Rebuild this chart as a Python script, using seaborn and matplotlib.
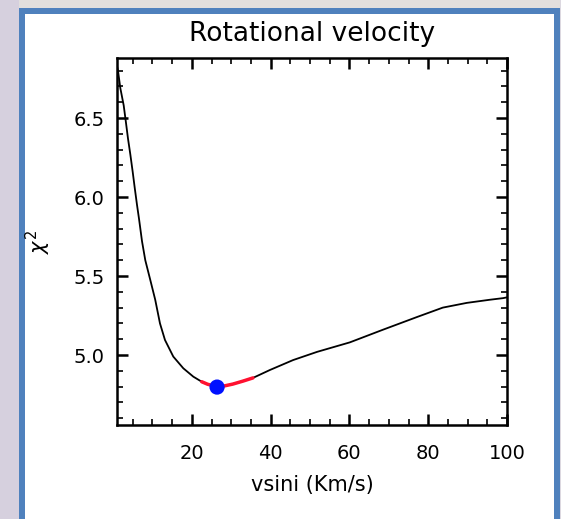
import numpy as np
import pandas as pd
import matplotlib
matplotlib.use("Agg")
import matplotlib.pyplot as plt
from matplotlib.patches import Rectangle
from matplotlib.ticker import MultipleLocator, FixedLocator
import seaborn as sns

# ---- data ----
vsini = [1.0, 1.25, 1.84, 2.70, 3.28, 3.79, 4.38, 4.98, 5.49, 6.08, 6.6, 7.35,
         8.18, 9.45, 10.7, 11.91, 13.18, 15.29, 17.83, 20.37, 22.5, 24.0, 26.3,
         28.0, 30.4, 33.0, 35.5, 39.8, 45.7, 51.8, 60.1, 68.5, 77.1, 83.7, 89.8,
         95.7, 99.0, 100.0]
chi2 = [6.83, 6.80, 6.69, 6.58, 6.47, 6.37, 6.27, 6.16, 6.06, 5.95, 5.86, 5.72,
        5.60, 5.475, 5.35, 5.20, 5.095, 4.99, 4.916, 4.863, 4.831, 4.815, 4.80,
        4.803, 4.816, 4.835, 4.855, 4.905, 4.968, 5.02, 5.08, 5.16, 5.24, 5.30,
        5.33, 5.35, 5.36, 5.365]
err_lo, err_hi = 22.5, 35.5
best_v = [26.4]
best_chi = [4.797]
xticks = [20, 40, 60, 80, 100]
yticks = [5.0, 5.5, 6.0, 6.5]

df = pd.DataFrame({"vsini": vsini, "chi2": chi2})
df_err = df[(df.vsini >= err_lo) & (df.vsini <= err_hi)]
df_best = pd.DataFrame({"vsini": best_v, "chi2": best_chi})

sns.set_style("ticks")
plt.rcParams["font.family"] = ["DejaVu Sans"]
plt.rcParams["text.color"] = "black"
plt.rcParams["axes.labelcolor"] = "black"
plt.rcParams["xtick.color"] = "black"
plt.rcParams["ytick.color"] = "black"

W, H = 561, 519
fig = plt.figure(figsize=(W / 100, H / 100), dpi=100)
fig.patch.set_facecolor("white")

# window decoration: grey surround and blue frame
def px_rect(x0, y0, x1, y1, color, z=-2):
    fig.patches.append(Rectangle((x0 / W, 1 - y1 / H), (x1 - x0) / W, (y1 - y0) / H,
                                 transform=fig.transFigure, color=color, zorder=z,
                                 lw=0))
px_rect(0, 0, W, 9, "#e2dfdd")
px_rect(0, 0, 19, H, "#d6d0de")
px_rect(560, 0, W, H, "#dcd8e0")
px_rect(19, 8, 560, 14, "#4f81bd", -1)
px_rect(19, 8, 25, H, "#4f81bd", -1)
px_rect(554, 8, 560, H, "#4f81bd", -1)

ax = fig.add_axes([117 / W, 1 - 425 / H, (507 - 117) / W, (425 - 58) / H])
ax.set_facecolor("white")

sns.lineplot(data=df, x="vsini", y="chi2", ax=ax, color="black", lw=1.3,
             sort=True, estimator=None)
sns.lineplot(data=df_err, x="vsini", y="chi2", ax=ax, color="#ff1030", lw=2.5,
             sort=True, estimator=None)
sns.scatterplot(data=df_best, x="vsini", y="chi2", ax=ax, color="#0010ff",
                s=120, marker="o", edgecolor="none", zorder=5)

ax.set_xlim(1, 100)
ax.set_ylim(4.557, 6.88)
ax.xaxis.set_major_locator(FixedLocator(xticks))
ax.xaxis.set_minor_locator(MultipleLocator(5))
ax.yaxis.set_major_locator(FixedLocator(yticks))
ax.yaxis.set_minor_locator(MultipleLocator(0.1))
ax.set_xticklabels([str(t) for t in xticks])
ax.set_yticklabels([f"{t:.1f}" for t in yticks])
ax.tick_params(which="both", direction="in", top=True, right=True,
               color="black")
ax.tick_params(which="major", length=8, width=1.8, labelsize=14)
ax.tick_params(which="minor", length=4, width=1.2)
ax.tick_params(axis="x", pad=14)
ax.tick_params(axis="y", pad=9)
for sp in ax.spines.values():
    sp.set_linewidth(1.8)
    sp.set_color("black")

ax.set_xlabel("vsini (Km/s)", fontsize=15, labelpad=8)
ax.set_ylabel(r"$\chi^2$", fontsize=15)
ax.yaxis.set_label_coords(-0.165, 0.5)
ax.set_title("Rotational velocity", fontsize=19, pad=12)

fig.savefig("out.png", dpi=100)
